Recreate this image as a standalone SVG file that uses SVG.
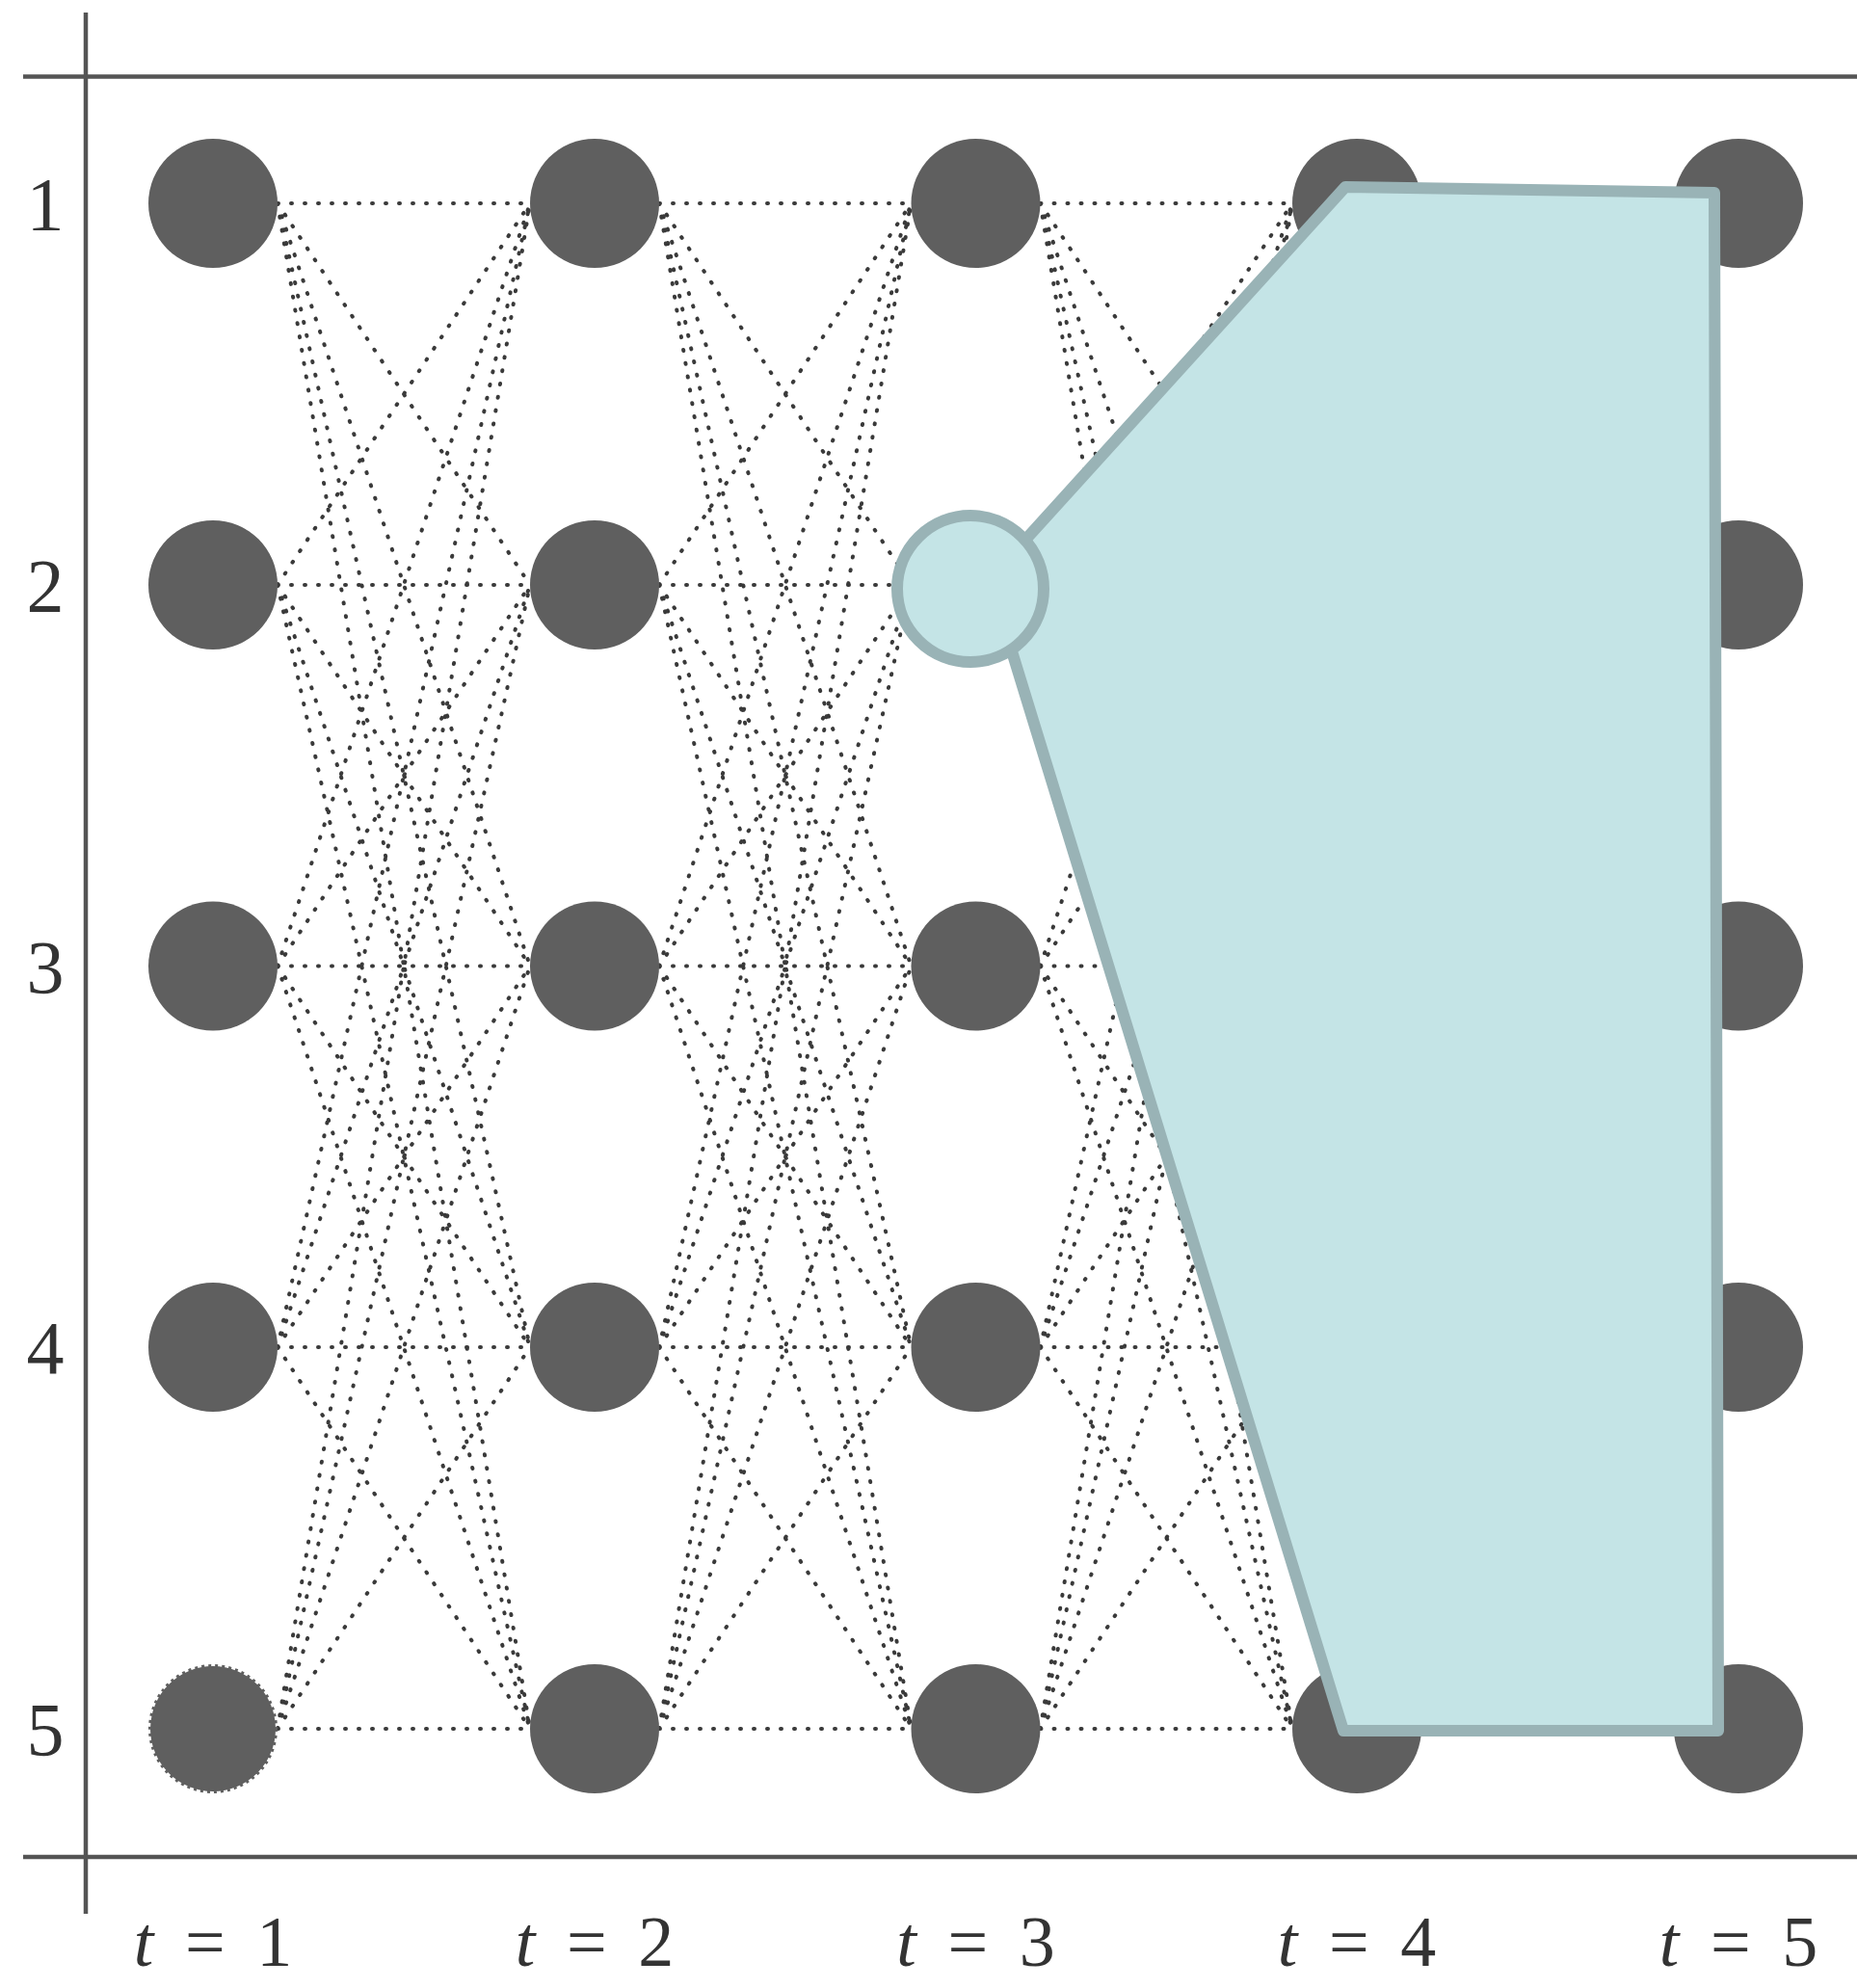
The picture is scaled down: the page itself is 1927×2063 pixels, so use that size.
<svg xmlns="http://www.w3.org/2000/svg" width="1927" height="2063" viewBox="0 0 1927 2063">
<style>
.axis{stroke:#555;stroke-width:4.5;fill:none}
.edge{stroke:#3a3a3a;stroke-width:4;stroke-dasharray:1 13;stroke-linecap:round;fill:none}
.state{fill:#5f5f5f}
.start{stroke:#5f5f5f;stroke-width:4;stroke-dasharray:3 4}
.lbl{font-family:"Liberation Serif","DejaVu Serif",serif;font-size:78px;fill:#333;text-anchor:middle}
.tl{font-size:74px;word-spacing:14px}
.region{fill:#c4e4e6;stroke:#99b3b6;stroke-width:12;stroke-linejoin:round}
</style>
<rect width="1927" height="2063" fill="#fff"/>

<!-- frame: row axis and top/bottom rules -->
<g id="frame">
<line class="axis" x1="89" y1="13" x2="89" y2="1986"/>
<line class="axis" x1="24" y1="79.5" x2="1927" y2="79.5"/>
<line class="axis" x1="24" y1="1927" x2="1927" y2="1927"/>
</g>

<!-- trellis transitions between consecutive time steps -->
<g id="connectors">
<path class="edge" d="M288 211L550 211M288 211L550 607M288 211L550 1002.5M288 211L550 1398M288 211L550 1794"/>
<path class="edge" d="M288 607L550 211M288 607L550 607M288 607L550 1002.5M288 607L550 1398M288 607L550 1794"/>
<path class="edge" d="M288 1002.5L550 211M288 1002.5L550 607M288 1002.5L550 1002.5M288 1002.5L550 1398M288 1002.5L550 1794"/>
<path class="edge" d="M288 1398L550 211M288 1398L550 607M288 1398L550 1002.5M288 1398L550 1398M288 1398L550 1794"/>
<path class="edge" d="M288 1794L550 211M288 1794L550 607M288 1794L550 1002.5M288 1794L550 1398M288 1794L550 1794"/>

<path class="edge" d="M684 211L945.5 211M684 211L945.5 607M684 211L945.5 1002.5M684 211L945.5 1398M684 211L945.5 1794"/>
<path class="edge" d="M684 607L945.5 211M684 607L945.5 607M684 607L945.5 1002.5M684 607L945.5 1398M684 607L945.5 1794"/>
<path class="edge" d="M684 1002.5L945.5 211M684 1002.5L945.5 607M684 1002.5L945.5 1002.5M684 1002.5L945.5 1398M684 1002.5L945.5 1794"/>
<path class="edge" d="M684 1398L945.5 211M684 1398L945.5 607M684 1398L945.5 1002.5M684 1398L945.5 1398M684 1398L945.5 1794"/>
<path class="edge" d="M684 1794L945.5 211M684 1794L945.5 607M684 1794L945.5 1002.5M684 1794L945.5 1398M684 1794L945.5 1794"/>

<path class="edge" d="M1079.5 211L1341 211M1079.5 211L1341 607M1079.5 211L1341 1002.5M1079.5 211L1341 1398M1079.5 211L1341 1794"/>
<path class="edge" d="M1079.5 607L1341 211M1079.5 607L1341 607M1079.5 607L1341 1002.5M1079.5 607L1341 1398M1079.5 607L1341 1794"/>
<path class="edge" d="M1079.5 1002.5L1341 211M1079.5 1002.5L1341 607M1079.5 1002.5L1341 1002.5M1079.5 1002.5L1341 1398M1079.5 1002.5L1341 1794"/>
<path class="edge" d="M1079.5 1398L1341 211M1079.5 1398L1341 607M1079.5 1398L1341 1002.5M1079.5 1398L1341 1398M1079.5 1398L1341 1794"/>
<path class="edge" d="M1079.5 1794L1341 211M1079.5 1794L1341 607M1079.5 1794L1341 1002.5M1079.5 1794L1341 1398M1079.5 1794L1341 1794"/>

<path class="edge" d="M1475 211L1737 211M1475 211L1737 607M1475 211L1737 1002.5M1475 211L1737 1398M1475 211L1737 1794"/>
<path class="edge" d="M1475 607L1737 211M1475 607L1737 607M1475 607L1737 1002.5M1475 607L1737 1398M1475 607L1737 1794"/>
<path class="edge" d="M1475 1002.5L1737 211M1475 1002.5L1737 607M1475 1002.5L1737 1002.5M1475 1002.5L1737 1398M1475 1002.5L1737 1794"/>
<path class="edge" d="M1475 1398L1737 211M1475 1398L1737 607M1475 1398L1737 1002.5M1475 1398L1737 1398M1475 1398L1737 1794"/>
<path class="edge" d="M1475 1794L1737 211M1475 1794L1737 607M1475 1794L1737 1002.5M1475 1794L1737 1398M1475 1794L1737 1794"/>
</g>

<!-- states: column = time step, row = state index -->
<g id="t1">
<circle id="s1-1" class="state" cx="221" cy="211" r="67"/>
<circle id="s1-2" class="state" cx="221" cy="607" r="67"/>
<circle id="s1-3" class="state" cx="221" cy="1002.5" r="67"/>
<circle id="s1-4" class="state" cx="221" cy="1398" r="67"/>
<circle id="s1-5" class="state start" cx="221" cy="1794" r="65"/>
</g>
<g id="t2">
<circle id="s2-1" class="state" cx="617" cy="211" r="67"/>
<circle id="s2-2" class="state" cx="617" cy="607" r="67"/>
<circle id="s2-3" class="state" cx="617" cy="1002.5" r="67"/>
<circle id="s2-4" class="state" cx="617" cy="1398" r="67"/>
<circle id="s2-5" class="state" cx="617" cy="1794" r="67"/>
</g>
<g id="t3">
<circle id="s3-1" class="state" cx="1012.5" cy="211" r="67"/>
<circle id="s3-2" class="state" cx="1012.5" cy="607" r="67"/>
<circle id="s3-3" class="state" cx="1012.5" cy="1002.5" r="67"/>
<circle id="s3-4" class="state" cx="1012.5" cy="1398" r="67"/>
<circle id="s3-5" class="state" cx="1012.5" cy="1794" r="67"/>
</g>
<g id="t4">
<circle id="s4-1" class="state" cx="1408" cy="211" r="67"/>
<circle id="s4-2" class="state" cx="1408" cy="607" r="67"/>
<circle id="s4-3" class="state" cx="1408" cy="1002.5" r="67"/>
<circle id="s4-4" class="state" cx="1408" cy="1398" r="67"/>
<circle id="s4-5" class="state" cx="1408" cy="1794" r="67"/>
</g>
<g id="t5">
<circle id="s5-1" class="state" cx="1804" cy="211" r="67"/>
<circle id="s5-2" class="state" cx="1804" cy="607" r="67"/>
<circle id="s5-3" class="state" cx="1804" cy="1002.5" r="67"/>
<circle id="s5-4" class="state" cx="1804" cy="1398" r="67"/>
<circle id="s5-5" class="state" cx="1804" cy="1794" r="67"/>
</g>

<!-- highlighted region with its anchor state -->
<g id="region">
<polygon class="region" points="1396,194 1779,200 1783,1796 1394,1796 1027,601"/>
<circle class="region" cx="1007" cy="611" r="76"/>
</g>

<!-- row labels -->
<g id="row-labels">
<text class="lbl" x="47" y="238">1</text>
<text class="lbl" x="47" y="634">2</text>
<text class="lbl" x="47" y="1030">3</text>
<text class="lbl" x="47" y="1425">4</text>
<text class="lbl" x="47" y="1821">5</text>
</g>

<!-- time labels -->
<g id="time-labels">
<text class="lbl tl" x="221" y="2040"><tspan font-style="italic">t</tspan> = 1</text>
<text class="lbl tl" x="617" y="2040"><tspan font-style="italic">t</tspan> = 2</text>
<text class="lbl tl" x="1012.5" y="2040"><tspan font-style="italic">t</tspan> = 3</text>
<text class="lbl tl" x="1408" y="2040"><tspan font-style="italic">t</tspan> = 4</text>
<text class="lbl tl" x="1804" y="2040"><tspan font-style="italic">t</tspan> = 5</text>
</g>
</svg>
